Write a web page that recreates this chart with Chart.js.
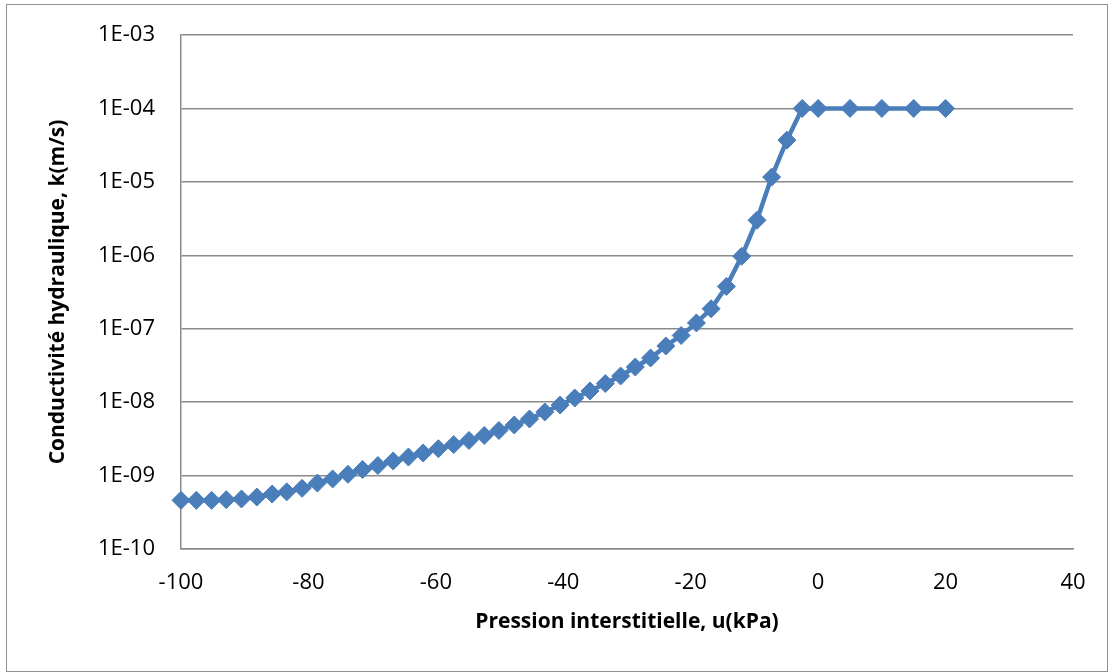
<!DOCTYPE html>
<html>
<head>
<meta charset="utf-8">
<script src="https://cdn.jsdelivr.net/npm/chart.js@4.4.1/dist/chart.umd.min.js"></script>
<style>
  html, body { margin: 0; padding: 0; background: #ffffff; }
  #wrap { width: 1110px; height: 672px; }
</style>
</head>
<body>
<div id="wrap"><canvas id="chart" width="1110" height="672"></canvas></div>
<script>
// Pore pressure u (kPa)
const pressure = [
  -100, -97.6, -95.2, -92.9, -90.5, -88.1, -85.7, -83.4, -81.0, -78.6,
  -76.2, -73.8, -71.5, -69.1, -66.7, -64.3, -62.0, -59.6, -57.2, -54.8,
  -52.4, -50.1, -47.7, -45.3, -42.9, -40.5, -38.2, -35.8, -33.4, -31.0,
  -28.7, -26.3, -23.9, -21.5, -19.1, -16.8, -14.4, -12.0, -9.6, -7.3,
  -4.9, -2.5, 0, 5, 10, 15, 20
];

// Hydraulic conductivity k (m/s)
const conductivity = [
  4.6e-10, 4.6e-10, 4.6e-10, 4.7e-10, 4.8e-10, 5.1e-10, 5.6e-10, 6.0e-10, 6.7e-10, 7.9e-10,
  9.0e-10, 1.04e-9, 1.21e-9, 1.37e-9, 1.58e-9, 1.79e-9, 2.03e-9, 2.32e-9, 2.64e-9, 3.01e-9,
  3.52e-9, 4.11e-9, 4.89e-9, 5.90e-9, 7.34e-9, 9.14e-9, 1.14e-8, 1.42e-8, 1.79e-8, 2.27e-8,
  3.01e-8, 3.99e-8, 5.82e-8, 8.09e-8, 1.20e-7, 1.87e-7, 3.76e-7, 9.7e-7, 3.0e-6, 1.16e-5,
  3.7e-5, 1.0e-4, 1.0e-4, 1.0e-4, 1.0e-4, 1.0e-4, 1.0e-4
];

const xTickValues = [-100, -80, -60, -40, -20, 0, 20, 40];
const yTickValues = [1e-10, 1e-9, 1e-8, 1e-7, 1e-6, 1e-5, 1e-4, 1e-3];
const yTickLabels = ['1E-10', '1E-09', '1E-08', '1E-07', '1E-06', '1E-05', '1E-04', '1E-03'];

const xTitle = 'Pression interstitielle, u(kPa)';
const yTitle = 'Conductivité hydraulique, k(m/s)';

const points = pressure.map((u, i) => ({ x: u, y: conductivity[i] }));

const SERIES_BLUE = '#4A7EBB';
const GRID_GREY = '#8a8a8a';
const FONT = "'Open Sans', 'DejaVu Sans', sans-serif";

// White page with a thin grey frame around the whole chart
const framePlugin = {
  id: 'frame',
  beforeDraw(chart) {
    const ctx = chart.ctx;
    ctx.save();
    ctx.fillStyle = '#ffffff';
    ctx.fillRect(0, 0, chart.width, chart.height);
    ctx.strokeStyle = '#8e8e8e';
    ctx.lineWidth = 1;
    ctx.strokeRect(6.5, 4.5, 1101, 667);
    ctx.restore();
  }
};

new Chart(document.getElementById('chart'), {
  type: 'scatter',
  data: {
    datasets: [{
      data: points,
      showLine: true,
      borderColor: SERIES_BLUE,
      borderWidth: 4.5,
      backgroundColor: SERIES_BLUE,
      pointStyle: 'rectRot',
      pointRadius: 9,
      pointHoverRadius: 9,
      pointBorderWidth: 1,
      pointBorderColor: SERIES_BLUE,
      pointBackgroundColor: SERIES_BLUE,
      tension: 0,
      clip: false
    }]
  },
  options: {
    responsive: false,
    animation: false,
    events: [],
    layout: { autoPadding: false, padding: { left: 0, top: 35, right: 37, bottom: 0 } },
    plugins: {
      legend: { display: false },
      tooltip: { enabled: false },
      title: { display: false }
    },
    scales: {
      x: {
        type: 'linear',
        min: -100,
        max: 40,
        afterBuildTicks(scale) {
          scale.ticks = xTickValues.map(v => ({ value: v }));
        },
        afterFit(scale) { scale.height = 123; },
        grid: { display: false, drawTicks: false },
        border: { display: true, color: GRID_GREY, width: 1.5 },
        ticks: {
          padding: 21,
          color: '#000000',
          font: { family: FONT, size: 22 },
          maxRotation: 0,
          callback: v => String(v)
        },
        title: {
          display: true,
          text: xTitle,
          color: '#000000',
          font: { family: FONT, size: 21, weight: 'bold' },
          padding: { top: 0, bottom: 37 }
        }
      },
      y: {
        type: 'logarithmic',
        min: 1e-10,
        max: 1e-3,
        afterBuildTicks(scale) {
          scale.ticks = yTickValues.map(v => ({ value: v }));
        },
        afterFit(scale) { scale.width = 181; },
        // invisible tick marks keep the labels clear of the axis line
        grid: {
          display: true, color: GRID_GREY, lineWidth: 1.5,
          drawTicks: true, tickLength: 23, tickColor: 'rgba(0,0,0,0)'
        },
        border: { display: true, color: GRID_GREY, width: 1.5 },
        ticks: {
          padding: 3,
          color: '#000000',
          font: { family: FONT, size: 22 },
          callback: v => {
            const i = yTickValues.findIndex(t => Math.abs(Math.log10(t) - Math.log10(v)) < 1e-6);
            return i >= 0 ? yTickLabels[i] : '';
          }
        },
        title: {
          display: true,
          text: yTitle,
          color: '#000000',
          font: { family: FONT, size: 21, weight: 'bold' },
          padding: { top: 45, bottom: 0 }
        }
      }
    }
  },
  plugins: [framePlugin]
});
</script>
</body>
</html>
